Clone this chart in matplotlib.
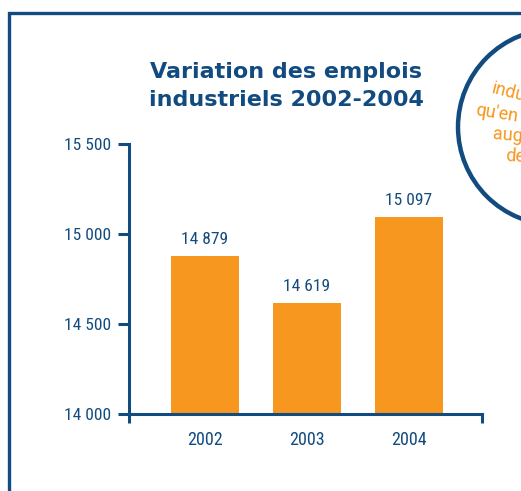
import matplotlib
matplotlib.use("Agg")
import matplotlib.pyplot as plt
from matplotlib.patches import Circle
from matplotlib.lines import Line2D

years = ["2002", "2003", "2004"]
emplois = [14879, 14619, 15097]
value_labels = ["14 879", "14 619", "15 097"]
yticks = [14000, 14500, 15000, 15500]
ytick_labels = ["14 000", "14 500", "15 000", "15 500"]
title = "Variation des emplois\nindustriels 2002-2004"
circle_lines = ["indu", "qu'en", "aug", "de"]

BLUE = "#124b7f"
ORANGE = "#f7971f"
W, H = 521, 491
COND = ["Roboto Condensed", "Roboto", "DejaVu Sans"]

fig = plt.figure(figsize=(W / 100, H / 100), dpi=100)

# overlay in pixel coordinates for frame and circle
ov = fig.add_axes([0, 0, 1, 1])
ov.set_xlim(0, W)
ov.set_ylim(H, 0)
ov.axis("off")
ov.add_line(Line2D([9, 9, W + 5], [H + 5, 13, 13], color=BLUE, lw=2.4,
                   solid_joinstyle="miter"))
ov.add_patch(Circle((556, 127), 98, fill=False, ec=BLUE, lw=3.2))
circ_pos = [(491, 93, -14), (475, 115, -9), (492, 139, -5), (505, 161, -3)]
for txt, (x, y, r) in zip(circle_lines, circ_pos):
    ov.text(x, y, txt, color=ORANGE, fontsize=13, family=["Roboto", "DejaVu Sans"],
            rotation=r, rotation_mode="anchor", ha="left", va="baseline")

# main axes: x from 129 to 482 px, y from 414 (14000) to 144 (15500)
ax = fig.add_axes([129 / W, (H - 414) / H, (482 - 129) / W, (414 - 144) / H])
ax.patch.set_alpha(0)
x = list(range(len(years)))
ax.bar(x, emplois, width=0.667, color=ORANGE, zorder=2)
ax.set_xlim(-0.745, 2.716)
ax.set_ylim(14000, 15500)
ax.set_yticks(yticks)
ax.set_yticklabels(ytick_labels)
ax.set_xticks(x)
ax.set_xticklabels(years)
ax.set_xticks([-0.745, 2.716], minor=True)
for s in ["top", "right"]:
    ax.spines[s].set_visible(False)
for s in ["left", "bottom"]:
    ax.spines[s].set_color(BLUE)
    ax.spines[s].set_linewidth(2.2)
ax.tick_params(axis="y", direction="out", length=8, width=2.2, color=BLUE,
               labelcolor=BLUE, labelsize=12.5, pad=5)
ax.tick_params(axis="x", which="major", length=0, labelcolor=BLUE, labelsize=13, pad=12)
ax.tick_params(axis="x", which="minor", direction="out", length=6.5, width=2.2, color=BLUE)
for lab in ax.get_xticklabels() + ax.get_yticklabels():
    lab.set_family(COND)

for xi, v, lab in zip(x, emplois, value_labels):
    ax.annotate(lab, (xi, v), xytext=(0, 6), textcoords="offset points",
                ha="center", va="bottom", color=BLUE, fontsize=12.5, family=COND)

fig.text(286 / W, 1 - 86 / H, title, ha="center", va="center", color=BLUE,
         fontsize=16, fontweight="bold", family=["DejaVu Sans"],
         linespacing=1.55)

fig.savefig("out.png", dpi=100)
